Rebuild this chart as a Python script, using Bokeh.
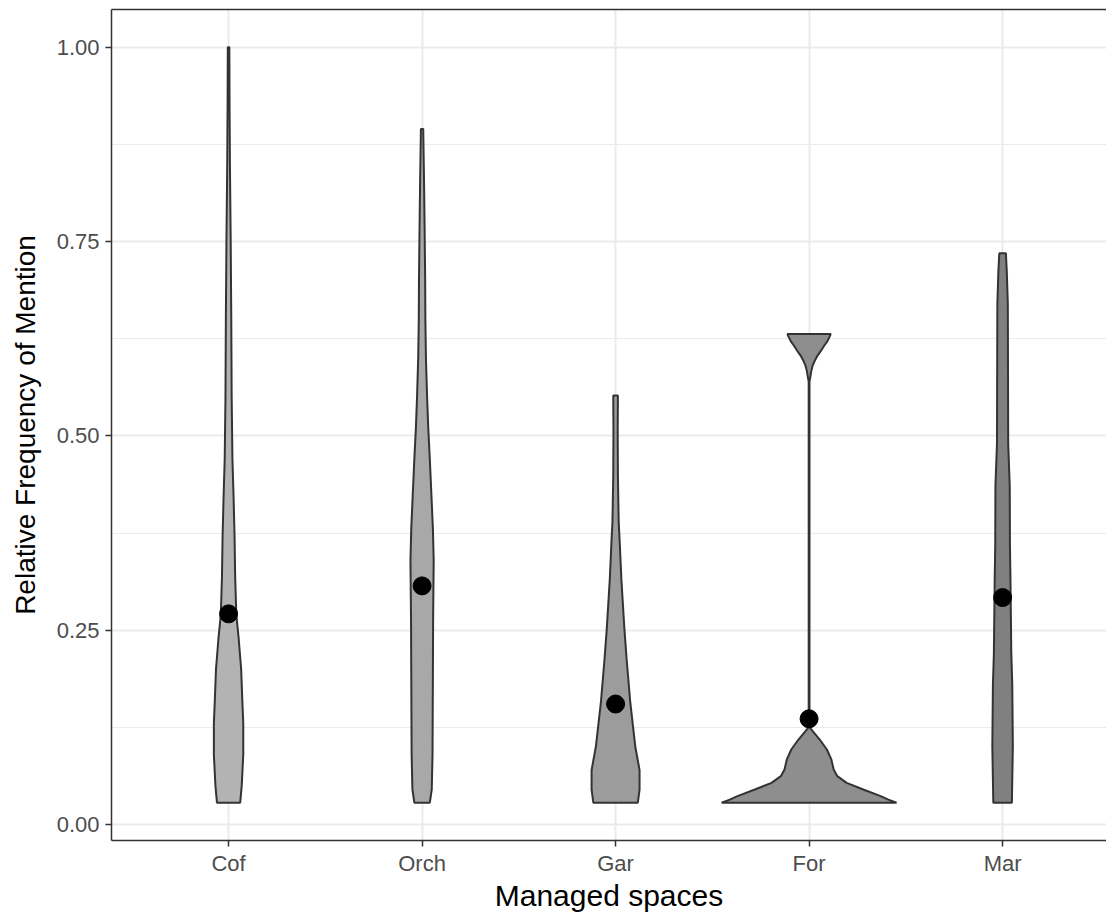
from bokeh.plotting import figure
from bokeh.models import FixedTicker, LinearAxis, Range1d, ColumnDataSource
from bokeh.embed import file_html
from bokeh.resources import INLINE

# ---------------- data ----------------
categories = ["Cof", "Orch", "Gar", "For", "Mar"]
mean_values = [0.271, 0.307, 0.155, 0.136, 0.292]
fill_colors = ["#b3b3b3", "#a8a8a8", "#9c9c9c", "#8e8e8e", "#808080"]

# violin profiles: y value and half-width (in category units)
cof_y = [0.028, 0.05, 0.09, 0.13, 0.16, 0.20, 0.24, 0.27, 0.32, 0.37, 0.42, 0.47, 0.55, 0.65, 0.75, 0.85, 0.93, 1.0]
cof_hw = [0.060, 0.068, 0.076, 0.076, 0.071, 0.065, 0.052, 0.040, 0.034, 0.031, 0.026, 0.020, 0.016, 0.014, 0.011, 0.007, 0.005, 0.004]

orch_y = [0.028, 0.045, 0.09, 0.20, 0.26, 0.34, 0.38, 0.42, 0.47, 0.51, 0.55, 0.60, 0.65, 0.70, 0.77, 0.83, 0.895]
orch_hw = [0.040, 0.050, 0.054, 0.056, 0.057, 0.060, 0.056, 0.049, 0.040, 0.032, 0.026, 0.020, 0.017, 0.016, 0.013, 0.010, 0.006]

gar_y = [0.028, 0.045, 0.07, 0.10, 0.157, 0.21, 0.25, 0.315, 0.36, 0.39, 0.45, 0.505, 0.552]
gar_hw = [0.115, 0.124, 0.124, 0.102, 0.076, 0.058, 0.046, 0.030, 0.022, 0.016, 0.012, 0.011, 0.012]

for_y = [0.028, 0.032, 0.0365, 0.045, 0.0536, 0.0622, 0.0708, 0.0837, 0.0965, 0.109, 0.118, 0.124, 0.13,
         0.57, 0.575, 0.583, 0.590, 0.596, 0.603, 0.609, 0.616, 0.622, 0.627, 0.631]
for_hw = [0.452, 0.410, 0.370, 0.280, 0.194, 0.146, 0.127, 0.115, 0.092, 0.056, 0.026, 0.006, 0.002,
          0.002, 0.006, 0.011, 0.018, 0.028, 0.043, 0.060, 0.078, 0.095, 0.105, 0.112]

mar_y = [0.028, 0.10, 0.18, 0.22, 0.31, 0.36, 0.435, 0.49, 0.67, 0.71, 0.735]
mar_hw = [0.048, 0.053, 0.050, 0.045, 0.041, 0.038, 0.037, 0.029, 0.027, 0.022, 0.017]

y_ticks = [0.0, 0.25, 0.5, 0.75, 1.0]
y_tick_labels = ["0.00", "0.25", "0.50", "0.75", "1.00"]
y_minor = [0.125, 0.375, 0.625, 0.875]

profiles = [(cof_y, cof_hw), (orch_y, orch_hw), (gar_y, gar_hw), (for_y, for_hw), (mar_y, mar_hw)]
positions = list(range(1, len(categories) + 1))

xs, ys = [], []
for c, (py, ph) in zip(positions, profiles):
    xs.append([c + h for h in ph] + [c - h for h in reversed(ph)])
    ys.append(list(py) + list(reversed(py)))

# ---------------- figure ----------------
FONT = "Liberation Sans"
p = figure(frame_width=995, frame_height=831,
           x_range=Range1d(0.395, 5.537), y_range=Range1d(-0.0206, 1.0486),
           output_backend="svg", toolbar_location=None,
           min_border_left=111, min_border_right=0, min_border_top=9, min_border_bottom=70,
           x_axis_label="Managed spaces", y_axis_label="Relative Frequency of Mention")
p.outline_line_color = None
p.background_fill_color = "white"
p.border_fill_color = "white"

# grids
p.xgrid.ticker = FixedTicker(ticks=positions)
p.ygrid.ticker = FixedTicker(ticks=y_ticks, minor_ticks=y_minor)
p.grid.grid_line_color = "#ebebeb"
p.grid.grid_line_width = 2
p.ygrid.minor_grid_line_color = "#ebebeb"
p.ygrid.minor_grid_line_width = 1

# axes
xa = p.below[0]
ya = p.left[0]
xa.ticker = FixedTicker(ticks=positions)
xa.major_label_overrides = {pos: cat for pos, cat in zip(positions, categories)}
ya.ticker = FixedTicker(ticks=y_ticks)
ya.major_label_overrides = {t: l for t, l in zip(y_ticks, y_tick_labels)}
for ax in (xa, ya):
    ax.axis_line_color = "#333333"
    ax.axis_line_width = 1.5
    ax.major_tick_line_color = "#333333"
    ax.major_tick_line_width = 1.5
    ax.major_tick_out = 6
    ax.major_tick_in = 0
    ax.minor_tick_out = 0
    ax.minor_tick_in = 0
    ax.major_label_text_font = FONT
    ax.major_label_text_font_size = "22px"
    ax.major_label_text_color = "#4d4d4d"
    ax.axis_label_text_font = FONT
    ax.axis_label_text_font_style = "normal"
    ax.axis_label_text_color = "black"
xa.axis_label_text_font_size = "30px"
ya.axis_label_text_font_size = "28px"
xa.major_label_standoff = 4
xa.axis_label_standoff = 0
ya.major_label_standoff = 6
ya.axis_label_standoff = 13

# top border line of the panel (right side is cut off in the reference)
top_axis = LinearAxis(ticker=FixedTicker(ticks=[]), major_tick_out=0, major_tick_in=0,
                      minor_tick_out=0, minor_tick_in=0, major_label_standoff=0,
                      major_label_text_font_size="0px",
                      axis_line_color="#333333", axis_line_width=1.5)
p.add_layout(top_axis, "above")

# violins
src = ColumnDataSource(dict(xs=xs, ys=ys, fill=fill_colors))
p.patches("xs", "ys", source=src, fill_color="fill", line_color="#333333", line_width=2)

# mean points
p.scatter(x=positions, y=mean_values, size=18, color="black")

open("out.html", "w").write(file_html(p, INLINE))
